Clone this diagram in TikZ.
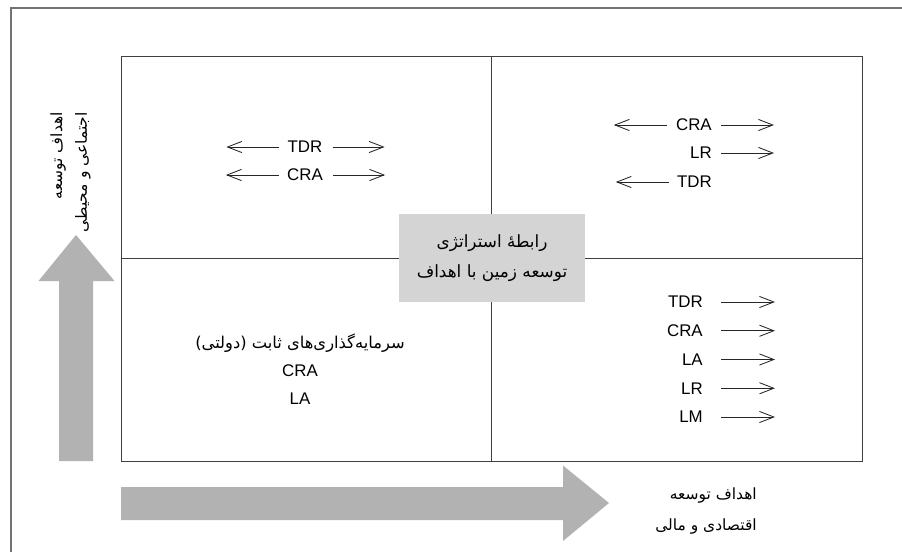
\documentclass[tikz,border=0pt]{standalone}
\usepackage{fontspec}
\setmainfont{Liberation Sans}
\newfontfamily\fa[Script=Arabic]{DejaVu Sans}
\TeXXeTstate=1
\usetikzlibrary{arrows.meta}
\usetikzlibrary{positioning}

\tikzset{
  lbl/.style={inner sep=0pt, font=\fontsize{12}{14}\selectfont},
  sarr/.style={-{Straight Barb[length=3.6mm,width=2.8mm]}, line width=0.6pt, black!85},
  bigarr/.style={fill=black!30, draw=none},
  quad/.style={draw=black!75, line width=0.6pt}
}

\begin{document}
\begin{tikzpicture}[x=0.025cm, y=-0.025cm]
      \useasboundingbox (0,0) rectangle (902,552);
      % frame (only top and left edges show)
      \draw[black!55, line width=1.2pt] (11,552) -- (11,8) -- (902,8);
      % the four quadrants
      \draw[quad] (121,56) rectangle (862,461);
      \draw[quad] (491,56) -- (491,461);
      \draw[quad] (121,258) -- (862,258);
      % big axis arrows
      \draw[bigarr] (59,461) -- (59,281) -- (38.5,281) -- (76,235) -- (114.5,281) -- (93,281) -- (93,461) -- cycle;
      \draw[bigarr] (121,487) -- (563,487) -- (563,465.5) -- (609,503) -- (563,541) -- (563,520) -- (121,520) -- cycle;
      % centre box
      \node[fill=black!17, minimum width=4.65cm, minimum height=2.175cm, align=center,
            font=\fa\fontsize{12}{21}\selectfont] (core) at (492,258)
            {\beginR رابطهٔ استراتژی\endR\\\beginR توسعه زمین با اهداف\endR};
      % top left
      \node[lbl] (tl1) at (305,147) {TDR};
      \node[lbl] (tl2) at (305,175) {CRA};
      \draw[sarr] (tl1.west) ++(-8,0) -- ++(-53,0);
      \draw[sarr] (tl1.east) ++(10,0) -- ++(52,0);
      \draw[sarr] (tl2.west) ++(-8,0) -- ++(-53,0);
      \draw[sarr] (tl2.east) ++(10,0) -- ++(52,0);
      % top right
      \node[lbl, anchor=east] (tr1) at (712,125) {CRA};
      \node[lbl, anchor=east] (tr2) at (712,153) {LR};
      \node[lbl, anchor=east] (tr3) at (712,182) {TDR};
      \draw[sarr] (tr1.west) ++(-9,0) -- ++(-53,0);
      \draw[sarr] (tr1.east) ++(9,0) -- ++(53,0);
      \draw[sarr] (tr2.east) ++(9,0) -- ++(53,0);
      \draw[sarr] (tr3.west) ++(-8,0) -- ++(-53,0);
      % bottom right
      \foreach \lab [count=\i from 0] in {TDR,CRA,LA,LR,LM}{
        \node[lbl, anchor=east] (br\i) at (703,302+28.75*\i) {\lab};
        \draw[sarr] (br\i.east) ++(18,0) -- ++(54,0);
      }
      % bottom left
      \node[align=center, inner sep=0pt, font=\fontsize{12}{19.8}\selectfont] (bl) at (300,369)
            {{\fa\fontsize{11.6}{19.8}\selectfont\beginR سرمایه‌گذاری‌های ثابت (دولتی)\endR}\\CRA\\LA};
      % axis labels
      \node[rotate=90, anchor=east, align=right, inner sep=0pt,
            font=\fa\fontsize{11}{17.7}\selectfont] (ylab) at (70.5,112)
            {\beginR اهداف توسعه\endR\\\beginR اجتماعی و محیطی\endR};
      \node[anchor=east, align=right, inner sep=0pt,
            font=\fa\fontsize{11}{22.7}\selectfont] (xlab) at (757,511)
            {\beginR اهداف توسعه\endR\\\beginR اقتصادی و مالی\endR};
\end{tikzpicture}
\end{document}
